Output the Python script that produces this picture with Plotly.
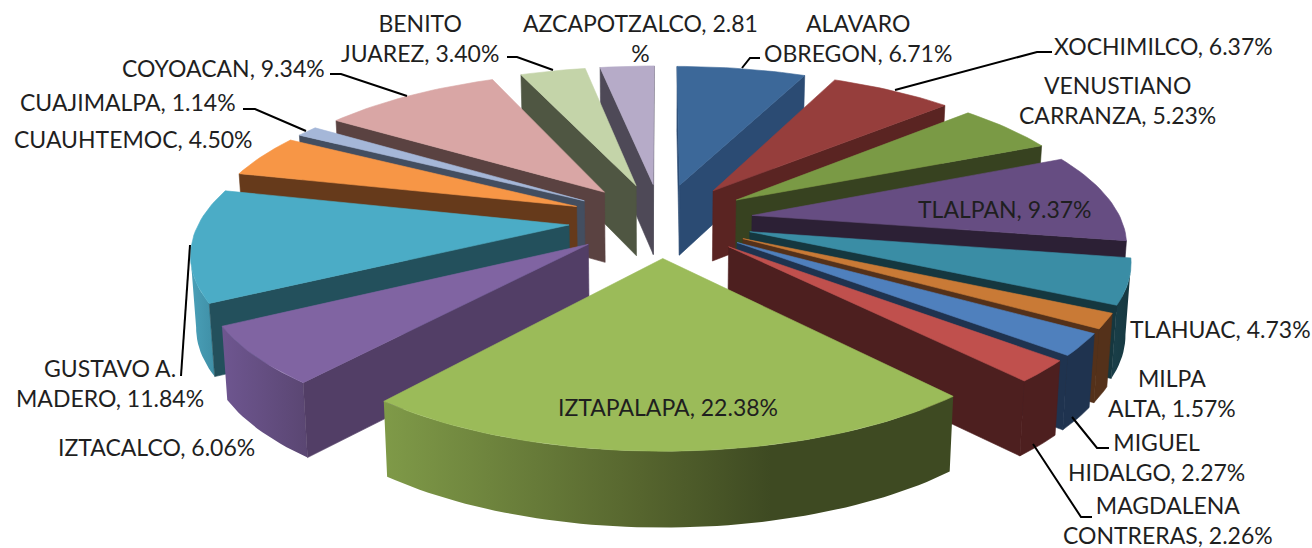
import math
import plotly.graph_objects as go

# ---- data (clockwise from 12 o'clock) ----
names = ["ALAVARO<br>OBREGON", "XOCHIMILCO", "VENUSTIANO<br>CARRANZA", "TLALPAN", "TLAHUAC",
         "MILPA<br>ALTA", "MIGUEL<br>HIDALGO", "MAGDALENA<br>CONTRERAS", "IZTAPALAPA", "IZTACALCO",
         "GUSTAVO A.<br>MADERO", "CUAUHTEMOC", "CUAJIMALPA", "COYOACAN", "BENITO<br>JUAREZ", "AZCAPOTZALCO"]
values = [6.71, 6.37, 5.23, 9.37, 4.73, 1.57, 2.27, 2.26, 22.38, 6.06, 11.84, 4.50, 1.14, 9.34, 3.40, 2.81]

top_colors = ["#3C6899", "#963E3C", "#7A9A45", "#664D82", "#3A8DA5", "#C97A36", "#4F80BD", "#C0504D",
              "#9BBB59", "#8064A2", "#4BACC6", "#F79646", "#A5B7D8", "#D9A6A5", "#C4D4A9", "#B6ABC8"]
wall_colors = ["#2B4B73", "#5A2422", "#374220", "#2C2035", "#15373F", "#54311A", "#1F334F", "#4D1F1F",
               "#3E4A22", "#523E66", "#23505C", "#663A1B", "#434E60", "#5A4241", "#4F5642", "#4E4957"]
rim_colors = [("#2B4B73", "#2B4B73"), ("#5A2422", "#5A2422"), ("#374220", "#374220"), ("#2C2035", "#2C2035"),
              ("#1A3F49", "#15373F"), ("#54311A", "#54311A"), ("#1F334F", "#1F334F"), ("#4D1F1F", "#4D1F1F"),
              ("#7F9A48", "#3E4A22"), ("#6E5690", "#5A4672"), ("#4AA0B8", "#3F8FA6"), ("#663A1B", "#663A1B"),
              ("#434E60", "#434E60"), ("#5A4241", "#5A4241"), ("#4F5642", "#4F5642"), ("#4E4957", "#4E4957")]

# label placement (centre x, centre y in chart units)
label_pos = [(858, 38), (1163, 46), (1117, 100), (1005, 209), (1220, 329), (1172, 393), (1156, 457), (1168, 520),
             (668, 407), (156, 447), (110, 383), (133, 139), (128, 102), (223, 68), (420, 38), (640, 38)]

# leader lines
leaders = [[(760, 58), (750, 58), (742, 68)], [(1052, 52), (1037, 52), (895, 90)],
           [(1072, 417), (1097, 448), (1109, 448)], [(1033, 444), (1081, 517), (1092, 517)],
           [(190, 245), (181, 376)], [(243, 109), (255, 109), (306, 131)],
           [(330, 74), (341, 74), (407, 96)], [(507, 57), (517, 57), (553, 70)]]

# view of the extruded pie
CX, CY, RX, RY, PERSP, EXPLODE, DEPTH = 661, 220, 369, 148, 0.16, 0.25, 71


def project(x, y, drop=0.0):
    w = 1 - PERSP * y
    return (CX + RX * x / w * (1 - 0.012 * drop),
            CY + RY * y / w + drop * DEPTH * (1 + 0.06 * y))


def polygon(xs, ys, color=None, grad=None):
    kw = dict(x=list(xs) + [xs[0]], y=list(ys) + [ys[0]], mode="lines", fill="toself",
              hoverinfo="skip", showlegend=False)
    if grad:
        kw["fillgradient"] = dict(type="horizontal", colorscale=grad)
        kw["fillcolor"] = grad[0][1]
        kw["line"] = dict(width=0)
    else:
        kw["fillcolor"] = color
        kw["line"] = dict(width=0.6, color=color)
    return go.Scatter(**kw)


total = sum(values)
slices, acc = [], 0.0
for i, v in enumerate(values):
    a0 = acc / total * 2 * math.pi
    acc += v
    a1 = acc / total * 2 * math.pi
    slices.append((i, a0, a1))

fig = go.Figure()
for i, a0, a1 in sorted(slices, key=lambda s: -math.cos((s[1] + s[2]) / 2)):
    mid = (a0 + a1) / 2
    ox, oy = EXPLODE * math.sin(mid), -EXPLODE * math.cos(mid)
    n = max(6, int((a1 - a0) * 40))
    arc = [a0 + (a1 - a0) * j / n for j in range(n + 1)]
    world = [(ox + math.sin(t), oy - math.cos(t)) for t in arc]
    apex = (ox, oy)
    top = [project(*p) for p in world]
    bottom = [project(*p, drop=1.0) for p in world]
    a_top, a_bot = project(*apex), project(*apex, drop=1.0)
    # curved rim, only the run that looks towards the viewer
    vis = [j for j in range(n) if top[j + 1][0] < top[j][0]]
    if vis:
        run = list(range(vis[0], vis[-1] + 2))
        xs = [top[j][0] for j in run] + [bottom[j][0] for j in reversed(run)]
        ys = [top[j][1] for j in run] + [bottom[j][1] for j in reversed(run)]
        c0, c1 = rim_colors[i]
        if c0 == c1:
            fig.add_trace(polygon(xs, ys, color=c0))
        elif names[i] == "IZTAPALAPA":
            fig.add_trace(polygon(xs, ys, grad=[[0, c0], [0.45, "#56652E"], [0.68, c1], [1, c1]]))
        else:
            fig.add_trace(polygon(xs, ys, grad=[[0, c0], [1, c1]]))
    # flat side faces that look towards the viewer
    if a_top[0] > top[0][0]:
        fig.add_trace(polygon([a_top[0], top[0][0], bottom[0][0], a_bot[0]],
                              [a_top[1], top[0][1], bottom[0][1], a_bot[1]], wall_colors[i]))
    if a_top[0] < top[-1][0]:
        fig.add_trace(polygon([a_top[0], top[-1][0], bottom[-1][0], a_bot[0]],
                              [a_top[1], top[-1][1], bottom[-1][1], a_bot[1]], wall_colors[i]))
    fig.add_trace(polygon([a_top[0]] + [p[0] for p in top], [a_top[1]] + [p[1] for p in top], top_colors[i]))

for path in leaders:
    fig.add_trace(go.Scatter(x=[p[0] for p in path], y=[p[1] for p in path], mode="lines",
                             line=dict(color="#000000", width=2), hoverinfo="skip", showlegend=False))

for i, (name, v) in enumerate(zip(names, values)):
    txt = f"{name}, {v:.2f}%"
    if name == "AZCAPOTZALCO":
        txt = f"{name}, {v:.2f}<br>%"
    fig.add_annotation(x=label_pos[i][0], y=label_pos[i][1], text=txt, showarrow=False, align="center",
                       xanchor="center", yanchor="middle", font=dict(family="Lato", size=23, color="#1F1F1F"))

fig.update_layout(width=1312, height=548, margin=dict(l=0, r=0, t=0, b=0),
                  paper_bgcolor="white", plot_bgcolor="white",
                  xaxis=dict(range=[0, 1312], visible=False, fixedrange=True),
                  yaxis=dict(range=[548, 0], visible=False, fixedrange=True))
fig.write_html("out.html", config={"displayModeBar": False},
               post_script="document.body.style.margin='0';document.documentElement.style.overflow='hidden';")
